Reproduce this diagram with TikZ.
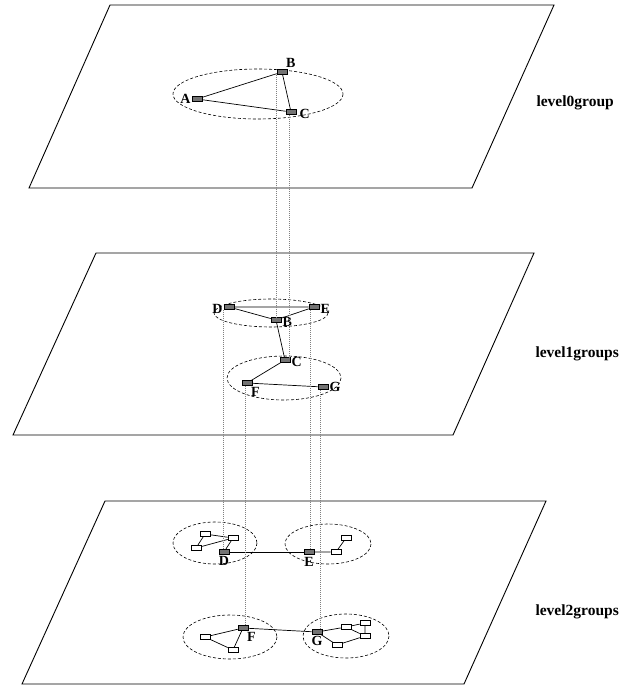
\documentclass[tikz,border=0pt]{standalone}
\usepackage{fontspec}
\setmainfont{Liberation Serif}
\usetikzlibrary{positioning}
\begin{document}
\begin{tikzpicture}[x=1pt,y=-1pt,
  plane/.style={line width=0.9pt},
  grp/.style={line width=0.6pt,dash pattern=on 3pt off 2pt},
  hub/.style={draw,fill=black!55,minimum width=10pt,minimum height=5pt,inner sep=0pt,line width=0.6pt},
  leaf/.style={draw,fill=white,minimum width=10pt,minimum height=5pt,inner sep=0pt,line width=0.6pt},
  lbl/.style={font=\fontsize{14}{16}\selectfont\bfseries,inner sep=1pt},
  lvl/.style={font=\fontsize{15.5}{18}\selectfont\bfseries,anchor=west},
  drop/.style={draw=black!50,line width=0.5pt,dash pattern=on 1pt off 1pt},
  edge/.style={line width=0.7pt}]
\useasboundingbox (0,0) rectangle (638,687);
\draw[plane] (110,5) -- (554,5) -- (472,188) -- (29,188) -- cycle;
\draw[plane] (96,253) -- (534,253) -- (453,435) -- (13,435) -- cycle;
\draw[plane] (105,501) -- (546,501) -- (464,684) -- (22,684) -- cycle;
\node[lvl] (lvl0) at (533,103) {level0group};
\node[lvl] (lvl1) at (532,354) {level1groups};
\node[lvl] (lvl2) at (532,612) {level2groups};
\draw[grp] (258,94) ellipse [x radius=85,y radius=25];
\draw[grp] (271,313) ellipse [x radius=57,y radius=14];
\draw[grp] (284,378) ellipse [x radius=57,y radius=22];
\draw[grp] (215,543) ellipse [x radius=42,y radius=21];
\draw[grp] (328,544) ellipse [x radius=43,y radius=20];
\draw[grp] (230,637) ellipse [x radius=47,y radius=22];
\draw[grp] (346,636) ellipse [x radius=43,y radius=22];
\node[hub,label={[lbl]left:A}] (A0) at (197,99) {};
\node[hub,label={[lbl]above right:B}] (B0) at (282,72) {};
\node[hub,label={[lbl,xshift=2pt,yshift=-2pt]right:C}] (C0) at (291,112) {};
\node[hub,label={[lbl,yshift=-2pt]left:D}] (D1) at (229,307) {};
\node[hub,label={[lbl,yshift=-2pt]right:E}] (E1) at (314,307) {};
\node[hub,label={[lbl,yshift=-2pt]right:B}] (B1) at (276,320) {};
\node[hub,label={[lbl,yshift=-2pt]right:C}] (C1) at (285,360) {};
\node[hub,label={[lbl]below right:F}] (F1) at (247,383) {};
\node[hub,label={[lbl]right:G}] (G1) at (323,387) {};
\node[hub,label={[lbl]below:D}] (D2) at (224,552) {};
\node[hub,label={[lbl,yshift=-1pt]below:E}] (E2) at (309,552) {};
\node[hub,label={[lbl]below right:F}] (F2) at (243,628) {};
\node[hub,label={[lbl]below:G}] (G2) at (317,632) {};
\node[leaf] (d1) at (205,534) {};
\node[leaf] (d2) at (233,538) {};
\node[leaf] (d3) at (196,548) {};
\node[leaf] (e1) at (336,552) {};
\node[leaf] (e2) at (346,538) {};
\node[leaf] (f1) at (205,637) {};
\node[leaf] (f2) at (233,650) {};
\node[leaf] (g1) at (346,627) {};
\node[leaf] (g2) at (365,623) {};
\node[leaf] (g3) at (365,636) {};
\node[leaf] (g4) at (337,645) {};
\draw[edge] (A0) -- (B0) -- (C0) -- (A0);
\draw[edge] (D1) -- (E1) -- (B1) -- (D1);
\draw[edge] (B1) -- (C1) -- (F1) -- (G1);
\draw[edge] (D2) -- (E2);
\draw[edge] (F2) -- (G2);
\draw[edge] (d1) -- (d2) -- (D2);
\draw[edge] (d1) -- (d3) -- (d2);
\draw[edge] (E2) -- (e1) -- (e2);
\draw[edge] (F2) -- (f1) -- (f2) -- (F2);
\draw[edge] (G2) -- (g1) -- (g2) -- (g3) -- (g1);
\draw[edge] (g3) -- (g4) -- (G2);
\draw[drop] (B0.south west) -- (B0.south west |- B1.north);
\draw[drop] (C0.-125) -- (C0.-125 |- C1.north);
\draw[drop] (D1.south west) -- (D1.south west |- D2.north);
\draw[drop] (E1.-140) -- (E1.-140 |- E2.north);
\draw[drop] (F1.-120) -- (F1.-120 |- F2.north);
\draw[drop] (G1.-135) -- (G1.-135 |- G2.north);
\end{tikzpicture}
\end{document}
